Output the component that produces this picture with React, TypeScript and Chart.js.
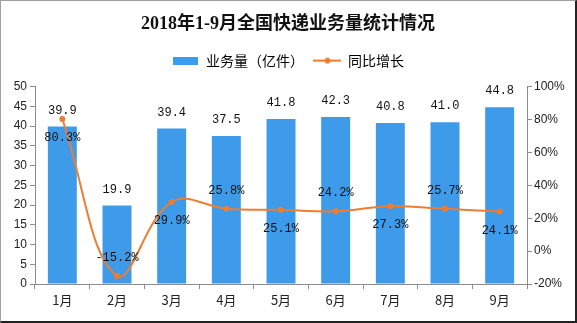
import React, { useEffect, useRef } from "react";
import { Chart, registerables, layouts } from "chart.js";

Chart.register(...registerables);

const categories = ["1月", "2月", "3月", "4月", "5月", "6月", "7月", "8月", "9月"];
const volume = [39.9, 19.9, 39.4, 37.5, 41.8, 42.3, 40.8, 41.0, 44.8];
const growth = [80.3, -15.2, 29.9, 25.8, 25.1, 24.2, 27.3, 25.7, 24.1];
const titleText = "2018年1-9月全国快递业务量统计情况";
const barLabel = "业务量（亿件）";
const lineLabel = "同比增长";

const BAR_COLOR = "#3E9BEA";
const LINE_COLOR = "#ED7D31";
const AXIS_COLOR = "#8c8c8c";

function makeBarIcon() {
  const c = document.createElement("canvas");
  c.width = 25;
  c.height = 8;
  const g = c.getContext("2d")!;
  g.fillStyle = BAR_COLOR;
  g.fillRect(0, 0, 25, 8);
  return c;
}

function makeLineIcon() {
  const c = document.createElement("canvas");
  c.width = 28;
  c.height = 8;
  const g = c.getContext("2d")!;
  g.strokeStyle = LINE_COLOR;
  g.lineWidth = 2;
  g.beginPath();
  g.moveTo(0, 4);
  g.lineTo(28, 4);
  g.stroke();
  g.fillStyle = LINE_COLOR;
  g.beginPath();
  g.arc(14, 4, 3, 0, Math.PI * 2);
  g.fill();
  return c;
}

const spacerPlugin = {
  id: "legendSpacer",
  start(chart: any) {
    const box: any = {
      position: "top",
      weight: 0,
      fullSize: true,
      options: {},
      top: 0,
      left: 0,
      right: 0,
      bottom: 0,
      width: 0,
      height: 0,
      isHorizontal() {
        return true;
      },
      update(maxWidth: number) {
        this.width = maxWidth;
        this.height = 9;
      },
      getPadding() {
        return { top: 0, left: 0, right: 0, bottom: 0 };
      },
      draw() {},
    };
    layouts.addBox(chart, box);
  },
};

const labelPlugin = {
  id: "valueLabels",
  afterDatasetsDraw(chart: any) {
    const ctx = chart.ctx;
    ctx.save();
    ctx.font = '12px "Liberation Mono", "DejaVu Sans Mono", monospace';
    ctx.fillStyle = "#111";
    ctx.textAlign = "center";
    ctx.textBaseline = "middle";
    const barMeta = chart.getDatasetMeta(0);
    barMeta.data.forEach((el: any, i: number) => {
      ctx.fillText(volume[i].toFixed(1), el.x, el.y - 16);
    });
    const lineMeta = chart.getDatasetMeta(1);
    lineMeta.data.forEach((el: any, i: number) => {
      const dy = i % 2 === 0 ? 19 : -18;
      ctx.fillText(growth[i].toFixed(1) + "%", el.x, el.y + dy);
    });
    ctx.restore();
  },
};

export default function App() {
  const ref = useRef<HTMLCanvasElement>(null);
  useEffect(() => {
    document.body.style.margin = "0";
    const barIcon = makeBarIcon();
    const lineIcon = makeLineIcon();
    const chart = new Chart(ref.current!, {
      type: "bar",
      data: {
        labels: categories,
        datasets: [
          {
            type: "bar",
            label: barLabel,
            data: volume,
            backgroundColor: BAR_COLOR,
            yAxisID: "y",
            barPercentage: 0.53,
            categoryPercentage: 1,
            order: 2,
          },
          {
            type: "line",
            label: lineLabel,
            data: growth,
            borderColor: LINE_COLOR,
            backgroundColor: LINE_COLOR,
            borderWidth: 2,
            pointRadius: 3,
            pointBackgroundColor: LINE_COLOR,
            pointBorderWidth: 0,
            tension: 0.4,
            yAxisID: "y1",
            order: 1,
          } as any,
        ],
      },
      options: {
        animation: false,
        responsive: false,
        maintainAspectRatio: false,
        layout: { padding: { top: 0, left: 0, right: 0, bottom: 0 } },
        plugins: {
          title: {
            display: true,
            text: titleText,
            color: "#111",
            font: { size: 18, weight: "bold", family: '"Liberation Serif", "Noto Sans CJK SC", serif' },
            padding: { top: 13, bottom: 8 },
          },
          legend: {
            display: true,
            labels: {
              usePointStyle: true,
              pointStyleWidth: 27,
              color: "#222",
              font: { size: 14, family: '"Noto Sans CJK SC", sans-serif' },
              padding: 10,
              generateLabels: () => [
                { text: barLabel, pointStyle: barIcon, fillStyle: BAR_COLOR, strokeStyle: BAR_COLOR, lineWidth: 0, datasetIndex: 0, hidden: false },
                { text: lineLabel, pointStyle: lineIcon, fillStyle: LINE_COLOR, strokeStyle: LINE_COLOR, lineWidth: 0, datasetIndex: 1, hidden: false },
              ] as any,
            },
          },
          tooltip: { enabled: false },
        },
        scales: {
          x: {
            grid: {
              offset: true,
              drawOnChartArea: false,
              color: AXIS_COLOR,
              tickLength: 5,
            },
            border: { color: AXIS_COLOR },
            ticks: {
              color: "#222",
              font: { size: 13, family: '"Noto Sans CJK SC", sans-serif' },
              padding: 3,
            },
            afterFit: (s: any) => {
              s.height = 37;
            },
          },
          y: {
            position: "left",
            min: 0,
            max: 50,
            ticks: {
              stepSize: 5,
              color: "#222",
              font: { size: 12, family: '"Liberation Sans", sans-serif' },
              padding: 3,
            },
            grid: { drawOnChartArea: false, color: AXIS_COLOR, tickLength: 5 },
            border: { color: AXIS_COLOR },
            afterFit: (s: any) => {
              s.width = 34;
            },
          },
          y1: {
            position: "right",
            min: -20,
            max: 100,
            ticks: {
              stepSize: 20,
              color: "#222",
              font: { size: 12, family: '"Liberation Sans", sans-serif' },
              padding: 2,
              callback: (v: any) => v + "%",
            },
            grid: { drawOnChartArea: false, color: AXIS_COLOR, tickLength: 5 },
            border: { color: AXIS_COLOR },
            afterFit: (s: any) => {
              s.width = 48;
            },
          },
        },
      },
      plugins: [spacerPlugin, labelPlugin],
    });
    return () => chart.destroy();
  }, []);
  return (
    <div
      style={{
        position: "absolute",
        left: 0,
        top: 0,
        width: 577,
        height: 323,
        boxSizing: "border-box",
        borderLeft: "1px solid #a0a0a0",
        borderTop: "1px solid #a0a0a0",
        borderRight: "2px solid #222",
        borderBottom: "2px solid #222",
        background: "#fff",
      }}
    >
      <canvas ref={ref} width={574} height={320} style={{ display: "block" }} />
    </div>
  );
}
